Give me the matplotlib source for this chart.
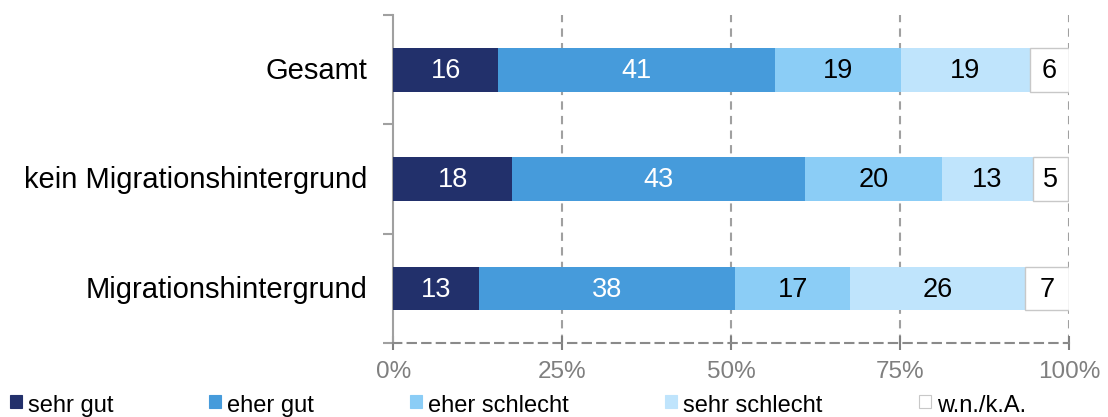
import numpy as np
import matplotlib.pyplot as plt
from matplotlib.patches import Rectangle

plt.rcParams['font.family'] = ['Liberation Sans', 'DejaVu Sans']

# data (percent)
groups = ['Gesamt', 'kein Migrationshintergrund', 'Migrationshintergrund']
series = ['sehr gut', 'eher gut', 'eher schlecht', 'sehr schlecht', 'w.n./k.A.']
sehr_gut = [15.5, 17.6, 12.7]
eher_gut = [40.9, 43.3, 37.9]
eher_schlecht = [18.7, 20.3, 17.0]
sehr_schlecht = [19.1, 13.4, 25.8]
wnka = [5.8, 5.2, 6.6]

colors = ['#22306b', '#469bdb', '#8bcdf6', '#bfe4fc', '#ffffff']
txtcol = ['white', 'white', 'black', 'black', 'black']

fig = plt.figure(figsize=(11.08, 4.17), dpi=100)
ax = fig.add_axes([0.355, 0.177, 0.61, 0.787])

vals = [sehr_gut, eher_gut, eher_schlecht, sehr_schlecht, wnka]
ypos = np.arange(len(groups))[::-1]
left = np.zeros(len(groups))
for i, v in enumerate(vals):
    v = np.array(v)
    ec = '#c8c8c8' if i == 4 else colors[i]
    ax.barh(ypos, v, left=left, height=0.4, color=colors[i], edgecolor=ec,
            linewidth=1 if i == 4 else 0, zorder=3)
    for y, l, w in zip(ypos, left, v):
        ax.text(l + w / 2, y - 0.01, '%d' % round(w), ha='center', va='center',
                fontsize=19.5, color=txtcol[i], zorder=4)
    left += v

ax.set_xlim(0, 100)
ax.set_ylim(-0.5, 2.5)
ax.set_xticks([0, 25, 50, 75, 100])
ax.set_xticklabels(['0%', '25%', '50%', '75%', '100%'])
ax.tick_params(axis='x', direction='inout', color='#808080', labelsize=17.5, length=10,
               width=1.5, labelcolor='#7f7f7f', pad=8)
ax.set_yticks([-0.5, 0.5, 1.5, 2.5])
ax.set_yticklabels([])
ax.tick_params(axis='y', length=7, width=1.5, color='#a0a0a0')
for y, g in zip(ypos, groups):
    ax.text(-3.8, y - 0.01, g, ha='right', va='center', fontsize=21, color='black')

for x in [25, 50, 75, 100]:
    ax.axvline(x, color='#a0a0a0', linestyle=(0, (4, 3)), linewidth=1.5, zorder=1)

for s in ['top', 'right']:
    ax.spines[s].set_visible(False)
ax.spines['left'].set_color('#a0a0a0')
ax.spines['left'].set_linewidth(1.5)
ax.spines['bottom'].set_color('#8a8a8a')
ax.spines['bottom'].set_linewidth(1.5)
ax.spines['bottom'].set_linestyle((0, (4, 3)))

# legend along the bottom
legx = [10, 209, 410, 665, 919]
for i, name in enumerate(series):
    x0 = legx[i] / 1108
    fig.patches.append(Rectangle((x0, 0.022), 12 / 1108, 0.031, transform=fig.transFigure,
                                 facecolor=colors[i], edgecolor='#c8c8c8' if i == 4 else colors[i],
                                 linewidth=0.8))
    fig.text(x0 + 18 / 1108, 0.012, name, fontsize=17, va='baseline', ha='left')

fig.savefig('out.png', dpi=100)
